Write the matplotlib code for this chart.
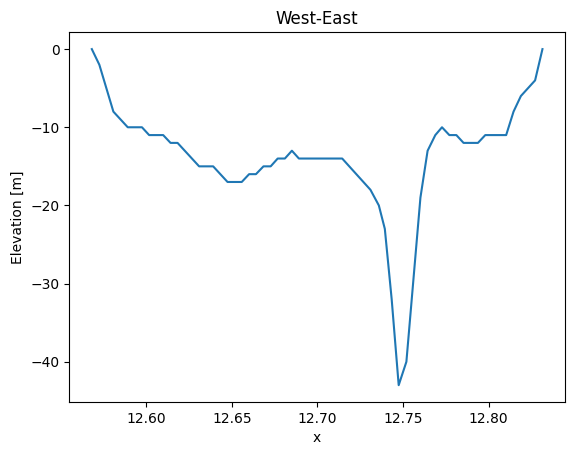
import matplotlib
matplotlib.use("Agg")
import matplotlib.pyplot as plt

# profile values
x = [12.5682, 12.5726, 12.5808, 12.5892, 12.5975, 12.6017, 12.6099, 12.6142,
     12.6183, 12.6309, 12.6391, 12.6475, 12.6558, 12.6601, 12.6641, 12.6685,
     12.6727, 12.6768, 12.6810, 12.6851, 12.6892, 12.7145, 12.7310, 12.7359,
     12.7394, 12.7434, 12.7475, 12.7520, 12.7602, 12.7644, 12.7689, 12.7728,
     12.7771, 12.7812, 12.7854, 12.7938, 12.7981, 12.8103, 12.8146, 12.8189,
     12.8272, 12.8315]
elevation = [0, -2, -8, -10, -10, -11, -11, -12, -12, -15, -15, -17, -17, -16,
             -16, -15, -15, -14, -14, -13, -14, -14, -18, -20, -23, -32, -43,
             -40, -19, -13, -11, -10, -11, -11, -12, -12, -11, -11, -8, -6,
             -4, 0]

fig = plt.figure(figsize=(5.74, 4.55), dpi=100)
ax = fig.add_axes([0.1207, 0.1165, 0.8636, 0.8125])

ax.plot(x, elevation)
ax.set_title("West-East")
ax.set_xlabel("x")
ax.set_ylabel("Elevation [m]")

fig.savefig("out.png", dpi=100)
plt.close(fig)
